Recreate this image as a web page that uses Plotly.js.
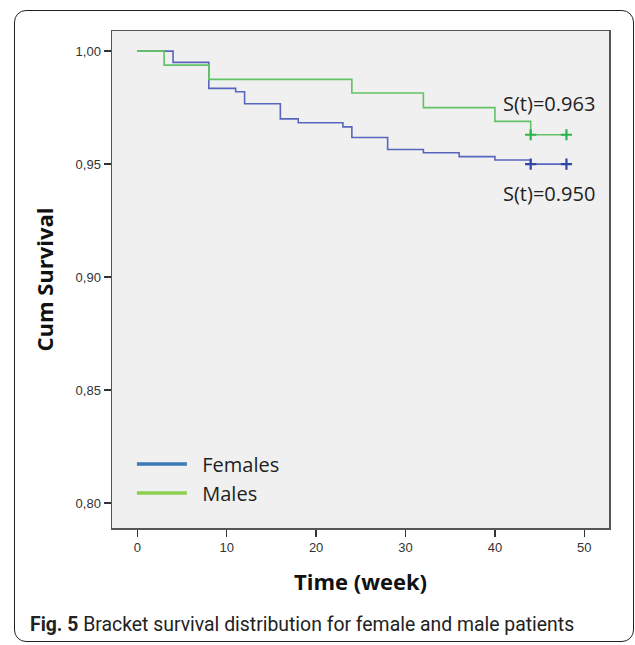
<!DOCTYPE html>
<html><head><meta charset="utf-8">
<script src="https://cdn.plot.ly/plotly-3.0.1.min.js"></script>
<style>
html,body{margin:0;padding:0;background:#fff;}
#frame{position:absolute;left:14px;top:10px;width:620px;height:632px;border:1.5px solid #222;border-radius:12px;box-sizing:border-box;}
#chart{position:absolute;left:0;top:0;width:635px;height:645px;}
</style></head>
<body>
<div id="frame"></div>
<div id="chart"></div>
<script>
// Females (Kaplan-Meier steps)
const femaleTime = [0, 4, 8, 11, 12, 16, 18, 23, 24, 28, 32, 36, 40, 44, 48];
const femaleSurv = [1.000, 0.995, 0.9835, 0.982, 0.9767, 0.970, 0.9683, 0.9665, 0.9618, 0.9565, 0.955, 0.9533, 0.9518, 0.950, 0.950];
// Males
const maleTime = [0, 3, 8, 24, 32, 40, 44, 48];
const maleSurv = [1.000, 0.9938, 0.9875, 0.9815, 0.975, 0.9689, 0.963, 0.963];
// Censored marks
const femaleCensTime = [44, 48];
const femaleCensSurv = [0.950, 0.950];
const maleCensTime = [44, 48];
const maleCensSurv = [0.963, 0.963];
const labels = ["S(t)=0.963", "S(t)=0.950"];
const xTicks = [0, 10, 20, 30, 40, 50];
const yTicks = [0.80, 0.85, 0.90, 0.95, 1.00];

const blue = '#5867bd', green = '#62c266';
const traces = [
  {x: femaleTime, y: femaleSurv, mode: 'lines', line: {shape: 'hv', color: blue, width: 1.6}, showlegend: false, hoverinfo: 'skip'},
  {x: maleTime, y: maleSurv, mode: 'lines', line: {shape: 'hv', color: green, width: 1.6}, showlegend: false, hoverinfo: 'skip'},
  {x: femaleCensTime, y: femaleCensSurv, mode: 'markers', marker: {symbol: 'cross-thin', size: 8, line: {width: 2.2, color: '#2f44a6'}}, showlegend: false},
  {x: maleCensTime, y: maleCensSurv, mode: 'markers', marker: {symbol: 'cross-thin', size: 8, line: {width: 2.2, color: '#2fb34c'}}, showlegend: false},
  {x: [null], y: [null], mode: 'lines', name: '\u00a0\u00a0Females', line: {color: '#3c7ab9', width: 3.5}},
  {x: [null], y: [null], mode: 'lines', name: '\u00a0\u00a0Males', line: {color: '#8dcf4f', width: 3.5}}
];

const layout = {
  width: 635, height: 645,
  margin: {l: 112, r: 26, t: 31, b: 117},
  paper_bgcolor: 'rgba(0,0,0,0)',
  plot_bgcolor: '#f0f0f0',
  separators: ',.',
  showlegend: true,
  legend: {x: 0.04, y: 0.031, xanchor: 'left', yanchor: 'bottom', bgcolor: 'rgba(0,0,0,0)',
           font: {family: 'Open Sans', size: 20, color: '#222'}, itemwidth: 50, tracegroupgap: 4},
  xaxis: {range: [-2.83, 52.76], tickvals: xTicks, ticks: 'outside', ticklen: 7, tickwidth: 1.5, tickcolor: '#333',
          showline: true, linecolor: '#555', linewidth: 1.5, mirror: true, showgrid: false, zeroline: false,
          tickfont: {family: 'Liberation Sans', size: 13, color: '#333'},
          title: {text: '<b>Time (week)</b>', font: {family: 'Open Sans', size: 22, color: '#111'}, standoff: 20}},
  yaxis: {range: [0.789, 1.0089], tickvals: yTicks, tickformat: '.2f', ticks: 'outside', ticklen: 7, tickwidth: 1.5, tickcolor: '#333',
          showline: true, linecolor: '#555', linewidth: 1.5, mirror: true, showgrid: false, zeroline: false,
          tickfont: {family: 'Liberation Sans', size: 13, color: '#333'},
          title: {text: '<b>Cum Survival</b>', font: {family: 'Open Sans', size: 22, color: '#111'}, standoff: 16}},
  annotations: [
    {x: 46.05, y: 0.977, xref: 'x', yref: 'y', text: labels[0], showarrow: false,
     font: {family: 'Open Sans', size: 20, color: '#222'}},
    {x: 46.05, y: 0.9372, xref: 'x', yref: 'y', text: labels[1], showarrow: false,
     font: {family: 'Open Sans', size: 20, color: '#222'}},
    {x: -0.169, y: -0.195, xref: 'paper', yref: 'paper', xanchor: 'left', yanchor: 'middle', showarrow: false,
     text: '<b>Fig. 5</b> Bracket survival distribution for female and male patients',
     font: {family: 'Roboto', size: 19.4, color: '#222'}}
  ]
};
Plotly.newPlot('chart', traces, layout, {displayModeBar: false, staticPlot: true});
</script>
</body></html>
